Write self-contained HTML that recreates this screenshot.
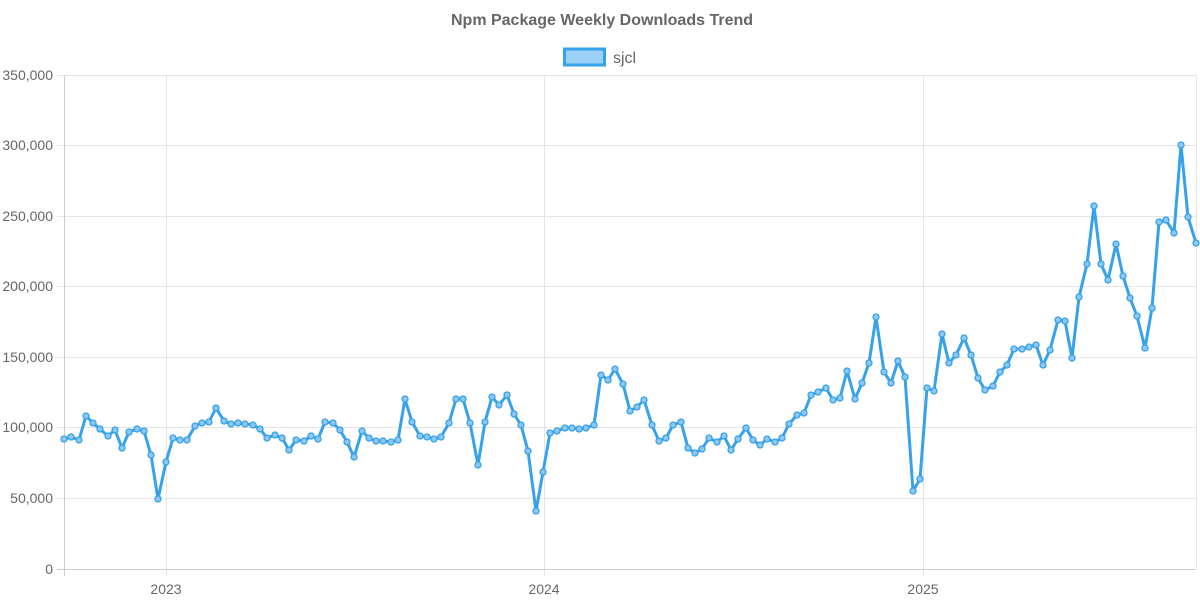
<!DOCTYPE html>
<html><head><meta charset="utf-8"><style>
html,body{margin:0;padding:0;background:#fff;}
svg{display:block;font-family:"Liberation Sans",sans-serif;}
</style></head><body>
<svg width="1200" height="600" viewBox="0 0 1200 600" xmlns="http://www.w3.org/2000/svg">
<defs>
<marker id="m" markerWidth="8" markerHeight="8" refX="4" refY="4" markerUnits="userSpaceOnUse">
<circle cx="4" cy="4" r="3" fill="#8ec8f0" stroke="#36a2eb" stroke-width="1.3"/>
</marker>
</defs>
<text x="602" y="25" text-anchor="middle" font-size="16" font-weight="bold" fill="#666">Npm Package Weekly Downloads Trend</text>
<rect x="564.5" y="49" width="40" height="16" fill="#9ad0f5" stroke="#36a2eb" stroke-width="3"/>
<text x="613" y="63" font-size="16" fill="#666">sjcl</text>
<g stroke="#e5e5e5" stroke-width="1">
<line x1="57" y1="75.5" x2="1196" y2="75.5"/>
<line x1="57" y1="145.5" x2="1196" y2="145.5"/>
<line x1="57" y1="216.5" x2="1196" y2="216.5"/>
<line x1="57" y1="286.5" x2="1196" y2="286.5"/>
<line x1="57" y1="357.5" x2="1196" y2="357.5"/>
<line x1="57" y1="427.5" x2="1196" y2="427.5"/>
<line x1="57" y1="498.5" x2="1196" y2="498.5"/>
<line x1="166.5" y1="75" x2="166.5" y2="576"/>
<line x1="544.5" y1="75" x2="544.5" y2="576"/>
<line x1="923.5" y1="75" x2="923.5" y2="576"/>
<line x1="1196.5" y1="75" x2="1196.5" y2="569"/>
</g>
<line x1="64.5" y1="75" x2="64.5" y2="576" stroke="#ccc"/>
<line x1="57" y1="569.5" x2="1196" y2="569.5" stroke="#ccc"/>
<g font-size="14" fill="#666" text-anchor="end">
<text x="53" y="80">350,000</text>
<text x="53" y="150">300,000</text>
<text x="53" y="221">250,000</text>
<text x="53" y="291">200,000</text>
<text x="53" y="362">150,000</text>
<text x="53" y="432">100,000</text>
<text x="53" y="503">50,000</text>
<text x="53" y="574">0</text>
</g>
<g font-size="14" fill="#666" text-anchor="middle">
<text x="166" y="594">2023</text>
<text x="544" y="594">2024</text>
<text x="923" y="594">2025</text>
</g>
<polyline fill="none" stroke="#36a2eb" stroke-width="3" stroke-linejoin="round" marker-start="url(#m)" marker-mid="url(#m)" marker-end="url(#m)" points="64,439 71,437 79,440 86,416 93,423 100,429 108,436 115,430 122,448 129,432 137,429 144,431 151,455 158,499 166,462 173,438 180,440 187,440 195,426 202,423 209,422 216,408 224,421 231,424 238,423 245,424 253,425 260,429 267,438 275,435 282,438 289,450 296,440 304,441 311,436 318,439 325,422 333,423 340,430 347,442 354,457 362,431 369,438 376,441 383,441 391,442 398,440 405,399 412,422 420,436 427,437 434,439 441,437 449,423 456,399 463,399 470,423 478,465 485,422 492,397 499,405 507,395 514,414 521,425 528,451 536,511 543,472 550,433 557,431 565,428 572,428 579,429 586,428 594,425 601,375 608,380 615,369 623,384 630,411 637,407 644,400 652,425 659,441 666,438 673,425 681,422 688,448 695,453 702,449 709,438 717,442 724,436 731,450 738,439 746,428 753,440 760,445 767,439 775,442 782,438 789,424 797,415 804,413 811,395 818,392 826,388 833,400 840,398 847,371 855,399 862,383 869,363 876,317 884,372 891,383 898,361 905,377 913,491 920,479 927,388 934,391 942,334 949,363 956,355 964,338 971,355 978,378 985,390 993,386 1000,372 1007,365 1014,349 1022,349 1029,347 1036,345 1043,365 1050,350 1058,320 1065,321 1072,358 1079,297 1087,264 1094,206 1101,264 1108,280 1116,244 1123,276 1130,298 1137,316 1145,348 1152,308 1159,222 1166,220 1174,233 1181,145 1188,217 1196,243"/>
</svg>
</body></html>
